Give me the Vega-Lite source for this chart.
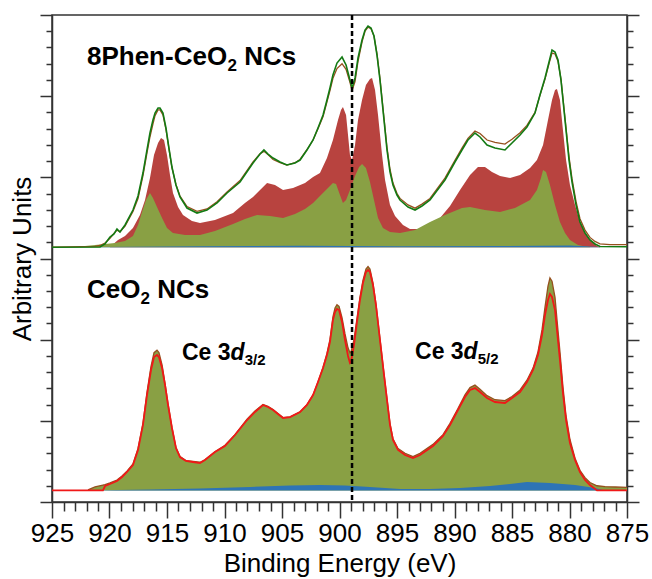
{
"$schema":"https://vega.github.io/schema/vega-lite/v6.json",
"width":575,"height":487,
"autosize":{"type":"none"},
"padding":{"left":52,"top":15,"right":25,"bottom":77},
"background":"white",
"config":{"view":{"stroke":"#333","strokeWidth":1.5},"axis":{"domainColor":"#333","tickColor":"#333","domainWidth":1.5,"tickWidth":1.5,"grid":false,"labelFont":"Liberation Sans","titleFont":"Liberation Sans","titleFontWeight":"normal","labelColor":"black","titleColor":"black"}},
"data":{"values":[
{"s":"topFit","x":925,"y":3.138},{"s":"topFit","x":920.83,"y":3.142},{"s":"topFit","x":920.39,"y":3.179},{"s":"topFit","x":919.96,"y":3.265},{"s":"topFit","x":919.61,"y":3.302},{"s":"topFit","x":919.35,"y":3.363},{"s":"topFit","x":919.09,"y":3.326},{"s":"topFit","x":918.65,"y":3.413},{"s":"topFit","x":917.96,"y":3.597},{"s":"topFit","x":917.52,"y":3.77},{"s":"topFit","x":917.09,"y":4.053},{"s":"topFit","x":916.74,"y":4.337},{"s":"topFit","x":916.48,"y":4.546},{"s":"topFit","x":916.22,"y":4.706},{"s":"topFit","x":916.04,"y":4.792},{"s":"topFit","x":915.78,"y":4.854},{"s":"topFit","x":915.61,"y":4.854},{"s":"topFit","x":915.35,"y":4.792},{"s":"topFit","x":915.09,"y":4.608},{"s":"topFit","x":914.83,"y":4.361},{"s":"topFit","x":914.57,"y":4.127},{"s":"topFit","x":914.22,"y":3.905},{"s":"topFit","x":913.87,"y":3.758},{"s":"topFit","x":913.26,"y":3.622},{"s":"topFit","x":912.39,"y":3.56},{"s":"topFit","x":911.52,"y":3.597},{"s":"topFit","x":910.65,"y":3.684},{"s":"topFit","x":909.78,"y":3.807},{"s":"topFit","x":908.65,"y":3.942},{"s":"topFit","x":907.52,"y":4.176},{"s":"topFit","x":906.91,"y":4.287},{"s":"topFit","x":906.57,"y":4.337},{"s":"topFit","x":906.22,"y":4.287},{"s":"topFit","x":905.78,"y":4.238},{"s":"topFit","x":905.17,"y":4.189},{"s":"topFit","x":904.57,"y":4.152},{"s":"topFit","x":903.87,"y":4.176},{"s":"topFit","x":903.43,"y":4.213},{"s":"topFit","x":902.83,"y":4.337},{"s":"topFit","x":902.3,"y":4.46},{"s":"topFit","x":901.87,"y":4.608},{"s":"topFit","x":901.43,"y":4.768},{"s":"topFit","x":901.09,"y":4.953},{"s":"topFit","x":900.83,"y":5.1},{"s":"topFit","x":900.57,"y":5.261},{"s":"topFit","x":900.22,"y":5.408},{"s":"topFit","x":899.78,"y":5.482},{"s":"topFit","x":899.43,"y":5.384},{"s":"topFit","x":899.09,"y":5.199},{"s":"topFit","x":898.91,"y":5.1},{"s":"topFit","x":898.65,"y":5.224},{"s":"topFit","x":898.39,"y":5.47},{"s":"topFit","x":898.04,"y":5.692},{"s":"topFit","x":897.78,"y":5.815},{"s":"topFit","x":897.52,"y":5.864},{"s":"topFit","x":897.26,"y":5.84},{"s":"topFit","x":897.0,"y":5.741},{"s":"topFit","x":896.74,"y":5.507},{"s":"topFit","x":896.48,"y":5.199},{"s":"topFit","x":896.13,"y":4.706},{"s":"topFit","x":895.87,"y":4.337},{"s":"topFit","x":895.61,"y":4.066},{"s":"topFit","x":895.35,"y":3.905},{"s":"topFit","x":895.0,"y":3.782},{"s":"topFit","x":894.74,"y":3.721},{"s":"topFit","x":894.04,"y":3.634},{"s":"topFit","x":893.43,"y":3.597},{"s":"topFit","x":892.83,"y":3.647},{"s":"topFit","x":892.13,"y":3.721},{"s":"topFit","x":890.83,"y":3.967},{"s":"topFit","x":889.96,"y":4.189},{"s":"topFit","x":889.35,"y":4.337},{"s":"topFit","x":888.83,"y":4.46},{"s":"topFit","x":888.22,"y":4.546},{"s":"topFit","x":887.78,"y":4.497},{"s":"topFit","x":887.17,"y":4.398},{"s":"topFit","x":886.48,"y":4.361},{"s":"topFit","x":885.61,"y":4.337},{"s":"topFit","x":885.0,"y":4.423},{"s":"topFit","x":884.3,"y":4.521},{"s":"topFit","x":883.7,"y":4.62},{"s":"topFit","x":883.0,"y":4.792},{"s":"topFit","x":882.57,"y":5.014},{"s":"topFit","x":882.13,"y":5.224},{"s":"topFit","x":881.78,"y":5.421},{"s":"topFit","x":881.52,"y":5.569},{"s":"topFit","x":881.26,"y":5.544},{"s":"topFit","x":881.0,"y":5.445},{"s":"topFit","x":880.74,"y":5.199},{"s":"topFit","x":880.39,"y":4.706},{"s":"topFit","x":880.04,"y":4.213},{"s":"topFit","x":879.78,"y":3.942},{"s":"topFit","x":879.43,"y":3.659},{"s":"topFit","x":879.09,"y":3.45},{"s":"topFit","x":878.65,"y":3.314},{"s":"topFit","x":878.22,"y":3.228},{"s":"topFit","x":877.78,"y":3.179},{"s":"topFit","x":877.35,"y":3.148},{"s":"topFit","x":875,"y":3.145},
{"s":"topData","x":925,"y":3.14},{"s":"topData","x":921.26,"y":3.15},{"s":"topData","x":920.83,"y":3.16},{"s":"topData","x":920.39,"y":3.19},{"s":"topData","x":919.96,"y":3.25},{"s":"topData","x":919.61,"y":3.31},{"s":"topData","x":919.35,"y":3.35},{"s":"topData","x":919.09,"y":3.33},{"s":"topData","x":918.65,"y":3.4},{"s":"topData","x":917.96,"y":3.58},{"s":"topData","x":917.52,"y":3.74},{"s":"topData","x":917.09,"y":4.02},{"s":"topData","x":916.74,"y":4.3},{"s":"topData","x":916.48,"y":4.5},{"s":"topData","x":916.22,"y":4.66},{"s":"topData","x":916.04,"y":4.76},{"s":"topData","x":915.78,"y":4.83},{"s":"topData","x":915.61,"y":4.83},{"s":"topData","x":915.35,"y":4.77},{"s":"topData","x":915.09,"y":4.59},{"s":"topData","x":914.83,"y":4.35},{"s":"topData","x":914.57,"y":4.12},{"s":"topData","x":914.22,"y":3.91},{"s":"topData","x":913.87,"y":3.77},{"s":"topData","x":913.26,"y":3.64},{"s":"topData","x":912.39,"y":3.58},{"s":"topData","x":911.52,"y":3.61},{"s":"topData","x":910.65,"y":3.7},{"s":"topData","x":909.78,"y":3.82},{"s":"topData","x":908.65,"y":3.96},{"s":"topData","x":907.52,"y":4.19},{"s":"topData","x":906.91,"y":4.29},{"s":"topData","x":906.57,"y":4.32},{"s":"topData","x":906.22,"y":4.28},{"s":"topData","x":905.78,"y":4.22},{"s":"topData","x":905.17,"y":4.18},{"s":"topData","x":904.57,"y":4.15},{"s":"topData","x":903.87,"y":4.18},{"s":"topData","x":903.43,"y":4.22},{"s":"topData","x":902.83,"y":4.34},{"s":"topData","x":902.3,"y":4.46},{"s":"topData","x":901.87,"y":4.6},{"s":"topData","x":901.43,"y":4.75},{"s":"topData","x":901.09,"y":4.93},{"s":"topData","x":900.83,"y":5.07},{"s":"topData","x":900.57,"y":5.22},{"s":"topData","x":900.22,"y":5.34},{"s":"topData","x":899.78,"y":5.4},{"s":"topData","x":899.43,"y":5.33},{"s":"topData","x":899.09,"y":5.17},{"s":"topData","x":898.91,"y":5.07},{"s":"topData","x":898.65,"y":5.18},{"s":"topData","x":898.39,"y":5.43},{"s":"topData","x":898.04,"y":5.67},{"s":"topData","x":897.78,"y":5.8},{"s":"topData","x":897.52,"y":5.85},{"s":"topData","x":897.26,"y":5.83},{"s":"topData","x":897.0,"y":5.74},{"s":"topData","x":896.74,"y":5.52},{"s":"topData","x":896.48,"y":5.22},{"s":"topData","x":896.13,"y":4.73},{"s":"topData","x":895.87,"y":4.37},{"s":"topData","x":895.61,"y":4.1},{"s":"topData","x":895.35,"y":3.93},{"s":"topData","x":895.0,"y":3.8},{"s":"topData","x":894.74,"y":3.74},{"s":"topData","x":894.04,"y":3.66},{"s":"topData","x":893.43,"y":3.62},{"s":"topData","x":892.83,"y":3.67},{"s":"topData","x":892.13,"y":3.74},{"s":"topData","x":890.83,"y":3.99},{"s":"topData","x":889.96,"y":4.21},{"s":"topData","x":889.35,"y":4.36},{"s":"topData","x":888.83,"y":4.48},{"s":"topData","x":888.22,"y":4.57},{"s":"topData","x":887.78,"y":4.54},{"s":"topData","x":887.17,"y":4.46},{"s":"topData","x":886.48,"y":4.43},{"s":"topData","x":885.61,"y":4.41},{"s":"topData","x":885.0,"y":4.47},{"s":"topData","x":884.3,"y":4.55},{"s":"topData","x":883.7,"y":4.64},{"s":"topData","x":883.0,"y":4.8},{"s":"topData","x":882.57,"y":5.01},{"s":"topData","x":882.13,"y":5.21},{"s":"topData","x":881.78,"y":5.4},{"s":"topData","x":881.52,"y":5.53},{"s":"topData","x":881.26,"y":5.52},{"s":"topData","x":881.0,"y":5.43},{"s":"topData","x":880.74,"y":5.21},{"s":"topData","x":880.39,"y":4.73},{"s":"topData","x":880.04,"y":4.25},{"s":"topData","x":879.78,"y":3.98},{"s":"topData","x":879.43,"y":3.7},{"s":"topData","x":879.09,"y":3.49},{"s":"topData","x":878.65,"y":3.35},{"s":"topData","x":878.22,"y":3.26},{"s":"topData","x":877.78,"y":3.21},{"s":"topData","x":877.35,"y":3.18},{"s":"topData","x":876.48,"y":3.17},{"s":"topData","x":875,"y":3.17},
{"s":"topRed","x":919.96,"y":3.142},{"s":"topRed","x":919.26,"y":3.228},{"s":"topRed","x":918.65,"y":3.277},{"s":"topRed","x":917.96,"y":3.376},{"s":"topRed","x":917.35,"y":3.536},{"s":"topRed","x":916.91,"y":3.721},{"s":"topRed","x":916.48,"y":3.992},{"s":"topRed","x":916.13,"y":4.275},{"s":"topRed","x":915.78,"y":4.423},{"s":"topRed","x":915.52,"y":4.484},{"s":"topRed","x":915.26,"y":4.46},{"s":"topRed","x":915.0,"y":4.275},{"s":"topRed","x":914.74,"y":4.029},{"s":"topRed","x":914.48,"y":3.807},{"s":"topRed","x":914.04,"y":3.634},{"s":"topRed","x":913.61,"y":3.536},{"s":"topRed","x":912.83,"y":3.462},{"s":"topRed","x":912.13,"y":3.437},{"s":"topRed","x":910.83,"y":3.474},{"s":"topRed","x":909.26,"y":3.56},{"s":"topRed","x":908.22,"y":3.684},{"s":"topRed","x":907.52,"y":3.758},{"s":"topRed","x":906.91,"y":3.844},{"s":"topRed","x":906.3,"y":3.93},{"s":"topRed","x":905.61,"y":3.905},{"s":"topRed","x":904.91,"y":3.844},{"s":"topRed","x":904.04,"y":3.868},{"s":"topRed","x":903.0,"y":3.93},{"s":"topRed","x":902.3,"y":4.004},{"s":"topRed","x":901.7,"y":4.053},{"s":"topRed","x":901.09,"y":4.238},{"s":"topRed","x":900.57,"y":4.46},{"s":"topRed","x":900.13,"y":4.706},{"s":"topRed","x":899.87,"y":4.829},{"s":"topRed","x":899.7,"y":4.866},{"s":"topRed","x":899.43,"y":4.768},{"s":"topRed","x":899.26,"y":4.521},{"s":"topRed","x":899.09,"y":4.275},{"s":"topRed","x":898.91,"y":4.213},{"s":"topRed","x":898.65,"y":4.398},{"s":"topRed","x":898.39,"y":4.706},{"s":"topRed","x":898.04,"y":4.953},{"s":"topRed","x":897.7,"y":5.137},{"s":"topRed","x":897.35,"y":5.211},{"s":"topRed","x":897.17,"y":5.224},{"s":"topRed","x":896.91,"y":5.076},{"s":"topRed","x":896.65,"y":4.768},{"s":"topRed","x":896.3,"y":4.275},{"s":"topRed","x":896.04,"y":3.967},{"s":"topRed","x":895.61,"y":3.659},{"s":"topRed","x":895.17,"y":3.523},{"s":"topRed","x":894.48,"y":3.413},{"s":"topRed","x":893.87,"y":3.363},{"s":"topRed","x":893.0,"y":3.363},{"s":"topRed","x":892.13,"y":3.4},{"s":"topRed","x":891.26,"y":3.499},{"s":"topRed","x":890.39,"y":3.647},{"s":"topRed","x":889.52,"y":3.844},{"s":"topRed","x":888.65,"y":4.029},{"s":"topRed","x":887.96,"y":4.127},{"s":"topRed","x":887.35,"y":4.127},{"s":"topRed","x":886.74,"y":4.066},{"s":"topRed","x":886.04,"y":4.016},{"s":"topRed","x":885.17,"y":3.992},{"s":"topRed","x":884.3,"y":4.029},{"s":"topRed","x":883.43,"y":4.115},{"s":"topRed","x":882.83,"y":4.213},{"s":"topRed","x":882.3,"y":4.398},{"s":"topRed","x":881.87,"y":4.706},{"s":"topRed","x":881.52,"y":4.953},{"s":"topRed","x":881.26,"y":5.076},{"s":"topRed","x":881.09,"y":5.088},{"s":"topRed","x":880.83,"y":4.953},{"s":"topRed","x":880.57,"y":4.583},{"s":"topRed","x":880.3,"y":4.213},{"s":"topRed","x":879.96,"y":3.905},{"s":"topRed","x":879.52,"y":3.659},{"s":"topRed","x":879.09,"y":3.45},{"s":"topRed","x":878.65,"y":3.314},{"s":"topRed","x":878.22,"y":3.228},{"s":"topRed","x":877.61,"y":3.154},{"s":"topRed","x":877.35,"y":3.142},
{"s":"topOlive","x":922.57,"y":3.142},{"s":"topOlive","x":922.13,"y":3.154},{"s":"topOlive","x":921.26,"y":3.166},{"s":"topOlive","x":920.39,"y":3.179},{"s":"topOlive","x":919.52,"y":3.191},{"s":"topOlive","x":918.65,"y":3.216},{"s":"topOlive","x":917.96,"y":3.277},{"s":"topOlive","x":917.52,"y":3.413},{"s":"topOlive","x":917.17,"y":3.573},{"s":"topOlive","x":916.83,"y":3.721},{"s":"topOlive","x":916.48,"y":3.807},{"s":"topOlive","x":916.22,"y":3.745},{"s":"topOlive","x":915.87,"y":3.634},{"s":"topOlive","x":915.43,"y":3.499},{"s":"topOlive","x":915.0,"y":3.376},{"s":"topOlive","x":914.48,"y":3.314},{"s":"topOlive","x":913.43,"y":3.289},{"s":"topOlive","x":912.13,"y":3.289},{"s":"topOlive","x":910.83,"y":3.339},{"s":"topOlive","x":909.26,"y":3.425},{"s":"topOlive","x":908.22,"y":3.487},{"s":"topOlive","x":907.17,"y":3.536},{"s":"topOlive","x":906.04,"y":3.523},{"s":"topOlive","x":904.91,"y":3.499},{"s":"topOlive","x":903.87,"y":3.548},{"s":"topOlive","x":903.0,"y":3.61},{"s":"topOlive","x":902.3,"y":3.684},{"s":"topOlive","x":901.7,"y":3.77},{"s":"topOlive","x":901.09,"y":3.856},{"s":"topOlive","x":900.57,"y":3.93},{"s":"topOlive","x":900.3,"y":3.918},{"s":"topOlive","x":899.96,"y":3.782},{"s":"topOlive","x":899.7,"y":3.684},{"s":"topOlive","x":899.43,"y":3.721},{"s":"topOlive","x":899.09,"y":3.844},{"s":"topOlive","x":898.65,"y":4.016},{"s":"topOlive","x":898.3,"y":4.127},{"s":"topOlive","x":898.04,"y":4.164},{"s":"topOlive","x":897.7,"y":4.115},{"s":"topOlive","x":897.35,"y":3.942},{"s":"topOlive","x":897.0,"y":3.721},{"s":"topOlive","x":896.65,"y":3.499},{"s":"topOlive","x":896.22,"y":3.376},{"s":"topOlive","x":895.61,"y":3.326},{"s":"topOlive","x":894.74,"y":3.314},{"s":"topOlive","x":893.43,"y":3.351},{"s":"topOlive","x":892.13,"y":3.45},{"s":"topOlive","x":890.83,"y":3.536},{"s":"topOlive","x":889.35,"y":3.622},{"s":"topOlive","x":888.65,"y":3.634},{"s":"topOlive","x":887.35,"y":3.597},{"s":"topOlive","x":886.04,"y":3.573},{"s":"topOlive","x":884.74,"y":3.622},{"s":"topOlive","x":883.43,"y":3.721},{"s":"topOlive","x":882.83,"y":3.844},{"s":"topOlive","x":882.48,"y":3.992},{"s":"topOlive","x":882.3,"y":4.09},{"s":"topOlive","x":882.04,"y":4.066},{"s":"topOlive","x":881.7,"y":3.905},{"s":"topOlive","x":881.26,"y":3.659},{"s":"topOlive","x":880.83,"y":3.45},{"s":"topOlive","x":880.39,"y":3.314},{"s":"topOlive","x":879.96,"y":3.228},{"s":"topOlive","x":879.26,"y":3.166},{"s":"topOlive","x":878.65,"y":3.148},{"s":"topOlive","x":878.22,"y":3.142},
{"s":"topBlue","x":920.83,"y":3.142},{"s":"topBlue","x":912.13,"y":3.152},{"s":"topBlue","x":903.43,"y":3.158},{"s":"topBlue","x":894.74,"y":3.152},{"s":"topBlue","x":886.04,"y":3.154},{"s":"topBlue","x":879.96,"y":3.16},{"s":"topBlue","x":877.35,"y":3.142},
{"s":"botFit","x":925,"y":0.142},{"s":"botFit","x":920.57,"y":0.142},{"s":"botFit","x":920.39,"y":0.197},{"s":"botFit","x":919.96,"y":0.222},{"s":"botFit","x":919.35,"y":0.259},{"s":"botFit","x":918.91,"y":0.308},{"s":"botFit","x":918.48,"y":0.37},{"s":"botFit","x":917.96,"y":0.456},{"s":"botFit","x":917.52,"y":0.641},{"s":"botFit","x":917.09,"y":0.949},{"s":"botFit","x":916.74,"y":1.318},{"s":"botFit","x":916.39,"y":1.626},{"s":"botFit","x":916.13,"y":1.786},{"s":"botFit","x":915.87,"y":1.811},{"s":"botFit","x":915.7,"y":1.786},{"s":"botFit","x":915.43,"y":1.651},{"s":"botFit","x":915.17,"y":1.441},{"s":"botFit","x":914.91,"y":1.195},{"s":"botFit","x":914.57,"y":0.912},{"s":"botFit","x":914.22,"y":0.665},{"s":"botFit","x":913.87,"y":0.554},{"s":"botFit","x":913.35,"y":0.505},{"s":"botFit","x":912.74,"y":0.493},{"s":"botFit","x":912.13,"y":0.48},{"s":"botFit","x":911.7,"y":0.517},{"s":"botFit","x":910.83,"y":0.616},{"s":"botFit","x":909.96,"y":0.69},{"s":"botFit","x":909.09,"y":0.825},{"s":"botFit","x":908.04,"y":1.01},{"s":"botFit","x":907.35,"y":1.109},{"s":"botFit","x":906.65,"y":1.195},{"s":"botFit","x":906.22,"y":1.17},{"s":"botFit","x":905.78,"y":1.133},{"s":"botFit","x":905.35,"y":1.084},{"s":"botFit","x":904.91,"y":1.035},{"s":"botFit","x":904.3,"y":1.047},{"s":"botFit","x":903.43,"y":1.109},{"s":"botFit","x":902.83,"y":1.195},{"s":"botFit","x":902.3,"y":1.318},{"s":"botFit","x":901.87,"y":1.478},{"s":"botFit","x":901.43,"y":1.651},{"s":"botFit","x":901.09,"y":1.811},{"s":"botFit","x":900.83,"y":1.971},{"s":"botFit","x":900.57,"y":2.242},{"s":"botFit","x":900.39,"y":2.341},{"s":"botFit","x":900.22,"y":2.378},{"s":"botFit","x":900.04,"y":2.365},{"s":"botFit","x":899.78,"y":2.218},{"s":"botFit","x":899.52,"y":1.996},{"s":"botFit","x":899.26,"y":1.799},{"s":"botFit","x":899.09,"y":1.712},{"s":"botFit","x":899.0,"y":1.725},{"s":"botFit","x":898.74,"y":1.934},{"s":"botFit","x":898.48,"y":2.218},{"s":"botFit","x":898.22,"y":2.489},{"s":"botFit","x":897.96,"y":2.698},{"s":"botFit","x":897.7,"y":2.834},{"s":"botFit","x":897.52,"y":2.858},{"s":"botFit","x":897.35,"y":2.834},{"s":"botFit","x":897.09,"y":2.673},{"s":"botFit","x":896.83,"y":2.427},{"s":"botFit","x":896.48,"y":1.996},{"s":"botFit","x":896.13,"y":1.565},{"s":"botFit","x":895.87,"y":1.257},{"s":"botFit","x":895.61,"y":0.949},{"s":"botFit","x":895.35,"y":0.764},{"s":"botFit","x":894.91,"y":0.641},{"s":"botFit","x":894.3,"y":0.579},{"s":"botFit","x":893.61,"y":0.542},{"s":"botFit","x":893.0,"y":0.579},{"s":"botFit","x":891.87,"y":0.69},{"s":"botFit","x":891.0,"y":0.813},{"s":"botFit","x":890.39,"y":0.949},{"s":"botFit","x":889.7,"y":1.133},{"s":"botFit","x":889.09,"y":1.294},{"s":"botFit","x":888.65,"y":1.38},{"s":"botFit","x":888.22,"y":1.404},{"s":"botFit","x":887.78,"y":1.355},{"s":"botFit","x":887.17,"y":1.281},{"s":"botFit","x":886.48,"y":1.232},{"s":"botFit","x":885.61,"y":1.22},{"s":"botFit","x":885.0,"y":1.281},{"s":"botFit","x":884.3,"y":1.355},{"s":"botFit","x":883.7,"y":1.478},{"s":"botFit","x":883.17,"y":1.626},{"s":"botFit","x":882.74,"y":1.811},{"s":"botFit","x":882.39,"y":2.057},{"s":"botFit","x":882.13,"y":2.304},{"s":"botFit","x":881.87,"y":2.489},{"s":"botFit","x":881.7,"y":2.563},{"s":"botFit","x":881.52,"y":2.526},{"s":"botFit","x":881.26,"y":2.365},{"s":"botFit","x":881.09,"y":2.119},{"s":"botFit","x":880.83,"y":1.749},{"s":"botFit","x":880.57,"y":1.343},{"s":"botFit","x":880.3,"y":1.01},{"s":"botFit","x":879.96,"y":0.727},{"s":"botFit","x":879.52,"y":0.517},{"s":"botFit","x":879.09,"y":0.37},{"s":"botFit","x":878.65,"y":0.271},{"s":"botFit","x":878.22,"y":0.209},{"s":"botFit","x":877.61,"y":0.142},{"s":"botFit","x":875,"y":0.142},
{"s":"botData","x":921.87,"y":0.15},{"s":"botData","x":921.26,"y":0.185},{"s":"botData","x":920.57,"y":0.209},{"s":"botData","x":920.39,"y":0.215},{"s":"botData","x":919.96,"y":0.235},{"s":"botData","x":919.35,"y":0.27},{"s":"botData","x":918.91,"y":0.32},{"s":"botData","x":918.48,"y":0.38},{"s":"botData","x":917.96,"y":0.47},{"s":"botData","x":917.52,"y":0.66},{"s":"botData","x":917.09,"y":0.97},{"s":"botData","x":916.74,"y":1.35},{"s":"botData","x":916.39,"y":1.67},{"s":"botData","x":916.13,"y":1.84},{"s":"botData","x":915.87,"y":1.87},{"s":"botData","x":915.7,"y":1.84},{"s":"botData","x":915.43,"y":1.69},{"s":"botData","x":915.17,"y":1.46},{"s":"botData","x":914.91,"y":1.21},{"s":"botData","x":914.57,"y":0.92},{"s":"botData","x":914.22,"y":0.67},{"s":"botData","x":913.87,"y":0.56},{"s":"botData","x":913.35,"y":0.51},{"s":"botData","x":912.74,"y":0.5},{"s":"botData","x":912.13,"y":0.49},{"s":"botData","x":911.7,"y":0.52},{"s":"botData","x":910.83,"y":0.62},{"s":"botData","x":909.96,"y":0.7},{"s":"botData","x":909.09,"y":0.83},{"s":"botData","x":908.04,"y":1.02},{"s":"botData","x":907.35,"y":1.12},{"s":"botData","x":906.65,"y":1.2},{"s":"botData","x":906.22,"y":1.18},{"s":"botData","x":905.78,"y":1.14},{"s":"botData","x":905.35,"y":1.09},{"s":"botData","x":904.91,"y":1.04},{"s":"botData","x":904.3,"y":1.05},{"s":"botData","x":903.43,"y":1.11},{"s":"botData","x":902.83,"y":1.2},{"s":"botData","x":902.3,"y":1.32},{"s":"botData","x":901.87,"y":1.48},{"s":"botData","x":901.43,"y":1.66},{"s":"botData","x":901.09,"y":1.83},{"s":"botData","x":900.83,"y":2.0},{"s":"botData","x":900.57,"y":2.28},{"s":"botData","x":900.39,"y":2.39},{"s":"botData","x":900.22,"y":2.43},{"s":"botData","x":900.04,"y":2.41},{"s":"botData","x":899.78,"y":2.27},{"s":"botData","x":899.52,"y":2.07},{"s":"botData","x":899.26,"y":1.9},{"s":"botData","x":899.09,"y":1.84},{"s":"botData","x":899.0,"y":1.85},{"s":"botData","x":898.74,"y":2.0},{"s":"botData","x":898.48,"y":2.26},{"s":"botData","x":898.22,"y":2.52},{"s":"botData","x":897.96,"y":2.73},{"s":"botData","x":897.7,"y":2.87},{"s":"botData","x":897.52,"y":2.9},{"s":"botData","x":897.35,"y":2.87},{"s":"botData","x":897.09,"y":2.7},{"s":"botData","x":896.83,"y":2.44},{"s":"botData","x":896.48,"y":2.01},{"s":"botData","x":896.13,"y":1.58},{"s":"botData","x":895.87,"y":1.27},{"s":"botData","x":895.61,"y":0.97},{"s":"botData","x":895.35,"y":0.78},{"s":"botData","x":894.91,"y":0.66},{"s":"botData","x":894.3,"y":0.6},{"s":"botData","x":893.61,"y":0.56},{"s":"botData","x":893.0,"y":0.6},{"s":"botData","x":891.87,"y":0.71},{"s":"botData","x":891.0,"y":0.83},{"s":"botData","x":890.39,"y":0.97},{"s":"botData","x":889.7,"y":1.15},{"s":"botData","x":889.09,"y":1.32},{"s":"botData","x":888.65,"y":1.41},{"s":"botData","x":888.22,"y":1.44},{"s":"botData","x":887.78,"y":1.39},{"s":"botData","x":887.17,"y":1.31},{"s":"botData","x":886.48,"y":1.26},{"s":"botData","x":885.61,"y":1.25},{"s":"botData","x":885.0,"y":1.3},{"s":"botData","x":884.3,"y":1.38},{"s":"botData","x":883.7,"y":1.5},{"s":"botData","x":883.17,"y":1.65},{"s":"botData","x":882.74,"y":1.85},{"s":"botData","x":882.39,"y":2.12},{"s":"botData","x":882.13,"y":2.4},{"s":"botData","x":881.87,"y":2.66},{"s":"botData","x":881.7,"y":2.76},{"s":"botData","x":881.52,"y":2.72},{"s":"botData","x":881.26,"y":2.52},{"s":"botData","x":881.09,"y":2.25},{"s":"botData","x":880.83,"y":1.85},{"s":"botData","x":880.57,"y":1.42},{"s":"botData","x":880.3,"y":1.06},{"s":"botData","x":879.96,"y":0.77},{"s":"botData","x":879.52,"y":0.54},{"s":"botData","x":879.09,"y":0.39},{"s":"botData","x":878.65,"y":0.3},{"s":"botData","x":878.22,"y":0.24},{"s":"botData","x":877.61,"y":0.2},{"s":"botData","x":876.91,"y":0.19},{"s":"botData","x":876.0,"y":0.185},{"s":"botData","x":875,"y":0.18},
{"s":"botBlue","x":920.83,"y":0.144},{"s":"botBlue","x":916.48,"y":0.154},{"s":"botBlue","x":912.13,"y":0.166},{"s":"botBlue","x":907.78,"y":0.185},{"s":"botBlue","x":904.3,"y":0.203},{"s":"botBlue","x":901.7,"y":0.209},{"s":"botBlue","x":899.52,"y":0.203},{"s":"botBlue","x":897.35,"y":0.185},{"s":"botBlue","x":894.74,"y":0.16},{"s":"botBlue","x":892.13,"y":0.16},{"s":"botBlue","x":889.52,"y":0.172},{"s":"botBlue","x":886.91,"y":0.197},{"s":"botBlue","x":885.17,"y":0.222},{"s":"botBlue","x":883.7,"y":0.246},{"s":"botBlue","x":881.7,"y":0.234},{"s":"botBlue","x":879.52,"y":0.209},{"s":"botBlue","x":877.78,"y":0.172},{"s":"botBlue","x":876.91,"y":0.142},
{"s":"ref","x":898.91},
{"s":"t26","x":921.96,"y":5.384,"t":"8Phen-CeO"},{"s":"t26","x":908.29,"y":5.384,"t":"NCs"},{"s":"t26","x":921.96,"y":2.513,"t":"CeO"},{"s":"t26","x":915.85,"y":2.513,"t":"NCs"},
{"s":"s17","x":909.73,"y":5.384,"t":"2"},{"s":"s17","x":917.3,"y":2.513,"t":"2"},
{"s":"t23","x":913.7,"y":1.749,"t":"Ce 3"},{"s":"t23","x":893.43,"y":1.762,"t":"Ce 3"},
{"s":"i23","x":909.47,"y":1.749,"t":"d"},{"s":"i23","x":889.21,"y":1.762,"t":"d"},
{"s":"s15","x":908.24,"y":1.749,"t":"3/2"},{"s":"s15","x":887.98,"y":1.762,"t":"5/2"}
]},
"encoding":{"x":{"field":"x","type":"quantitative","scale":{"domain":[875,925],"reverse":true,"nice":false,"zero":false},
"axis":{"values":[875,876,877,878,879,880,881,882,883,884,885,886,887,888,889,890,891,892,893,894,895,896,897,898,899,900,901,902,903,904,905,906,907,908,909,910,911,912,913,914,915,916,917,918,919,920,921,922,923,924,925],
"labelExpr":"datum.value % 5 === 0 ? datum.label : ''","tickSize":{"condition":{"test":"datum.value % 5 === 0","value":16},"value":9},"labelFontSize":26,"labelPadding":2,"labelFlush":false,"labelOverlap":false,"labelBound":false,"title":"Binding Energy (eV)","titleFontSize":26,"titlePadding":4}}},
"resolve":{"axis":{"y":"independent"}},
"layer":[
{"transform":[{"filter":"datum.s === 'topRed'"}],"mark":{"type":"area","color":"#B8433F"},"encoding":{"y":{"field":"y","type":"quantitative","scale":{"domain":[0,6],"nice":false,"zero":false},"axis":{"orient":"left","values":[0,0.2,0.4,0.6,0.8,1,1.2,1.4,1.6,1.8,2,2.2,2.4,2.6,2.8,3,3.2,3.4,3.6,3.8,4,4.2,4.4,4.6,4.8,5,5.2,5.4,5.6,5.8,6],"labels":false,"tickSize":{"condition":{"test":"abs(datum.value - round(datum.value)) < 0.01","value":12},"value":6},"title":"Arbitrary Units","titleFontSize":26,"titlePadding":4}},"y2":{"datum":3.138}}},
{"transform":[{"filter":"datum.s === 'topOlive'"}],"mark":{"type":"area","color":"#89A044"},"encoding":{"y":{"field":"y","type":"quantitative","scale":{"domain":[0,6],"nice":false,"zero":false},"axis":{"orient":"right","values":[0,0.2,0.4,0.6,0.8,1,1.2,1.4,1.6,1.8,2,2.2,2.4,2.6,2.8,3,3.2,3.4,3.6,3.8,4,4.2,4.4,4.6,4.8,5,5.2,5.4,5.6,5.8,6],"labels":false,"tickSize":{"condition":{"test":"abs(datum.value - round(datum.value)) < 0.01","value":12},"value":6},"title":null}},"y2":{"datum":3.138}}},
{"transform":[{"filter":"datum.s === 'topBlue'"}],"mark":{"type":"area","color":"#2E74B5"},"encoding":{"y":{"field":"y","type":"quantitative","scale":{"domain":[0,6],"nice":false,"zero":false},"axis":null},"y2":{"datum":3.138}}},
{"transform":[{"filter":"datum.s === 'botData'"}],"mark":{"type":"area","color":"#89A044"},"encoding":{"y":{"field":"y","type":"quantitative","scale":{"domain":[0,6],"nice":false,"zero":false},"axis":null},"y2":{"datum":0.142}}},
{"transform":[{"filter":"datum.s === 'botBlue'"}],"mark":{"type":"area","color":"#2E74B5"},"encoding":{"y":{"field":"y","type":"quantitative","scale":{"domain":[0,6],"nice":false,"zero":false},"axis":null},"y2":{"datum":0.142}}},
{"transform":[{"filter":"datum.s === 'topData'"}],"mark":{"type":"line","color":"#96501E","strokeWidth":1.3},"encoding":{"y":{"field":"y","type":"quantitative","scale":{"domain":[0,6],"nice":false,"zero":false},"axis":null}}},
{"transform":[{"filter":"datum.s === 'topFit'"}],"mark":{"type":"line","color":"#137A13","strokeWidth":1.6},"encoding":{"y":{"field":"y","type":"quantitative","scale":{"domain":[0,6],"nice":false,"zero":false},"axis":null}}},
{"transform":[{"filter":"datum.s === 'botData'"}],"mark":{"type":"line","color":"#96501E","strokeWidth":1.3},"encoding":{"y":{"field":"y","type":"quantitative","scale":{"domain":[0,6],"nice":false,"zero":false},"axis":null}}},
{"transform":[{"filter":"datum.s === 'botFit'"}],"mark":{"type":"line","color":"#F01818","strokeWidth":1.8},"encoding":{"y":{"field":"y","type":"quantitative","scale":{"domain":[0,6],"nice":false,"zero":false},"axis":null}}},
{"transform":[{"filter":"datum.s === 'ref'"}],"mark":{"type":"rule","color":"black","strokeWidth":2.5,"strokeDash":[5,3]},"encoding":{}},
{"transform":[{"filter":"datum.s === 't26'"}],"mark":{"type":"text","font":"Liberation Sans","fontWeight":"bold","fontSize":26,"align":"left","baseline":"alphabetic","color":"black"},"encoding":{"y":{"field":"y","type":"quantitative","scale":{"domain":[0,6],"nice":false,"zero":false},"axis":null},"text":{"field":"t"}}},
{"transform":[{"filter":"datum.s === 's17'"}],"mark":{"type":"text","font":"Liberation Sans","fontWeight":"bold","fontSize":17,"align":"left","baseline":"alphabetic","dy":6,"color":"black"},"encoding":{"y":{"field":"y","type":"quantitative","scale":{"domain":[0,6],"nice":false,"zero":false},"axis":null},"text":{"field":"t"}}},
{"transform":[{"filter":"datum.s === 't23'"}],"mark":{"type":"text","font":"Liberation Sans","fontWeight":"bold","fontSize":23,"align":"left","baseline":"alphabetic","color":"black"},"encoding":{"y":{"field":"y","type":"quantitative","scale":{"domain":[0,6],"nice":false,"zero":false},"axis":null},"text":{"field":"t"}}},
{"transform":[{"filter":"datum.s === 'i23'"}],"mark":{"type":"text","font":"Liberation Sans","fontWeight":"bold","fontStyle":"italic","fontSize":23,"align":"left","baseline":"alphabetic","color":"black"},"encoding":{"y":{"field":"y","type":"quantitative","scale":{"domain":[0,6],"nice":false,"zero":false},"axis":null},"text":{"field":"t"}}},
{"transform":[{"filter":"datum.s === 's15'"}],"mark":{"type":"text","font":"Liberation Sans","fontWeight":"bold","fontSize":15,"align":"left","baseline":"alphabetic","dy":5,"color":"black"},"encoding":{"y":{"field":"y","type":"quantitative","scale":{"domain":[0,6],"nice":false,"zero":false},"axis":null},"text":{"field":"t"}}}
]
}
